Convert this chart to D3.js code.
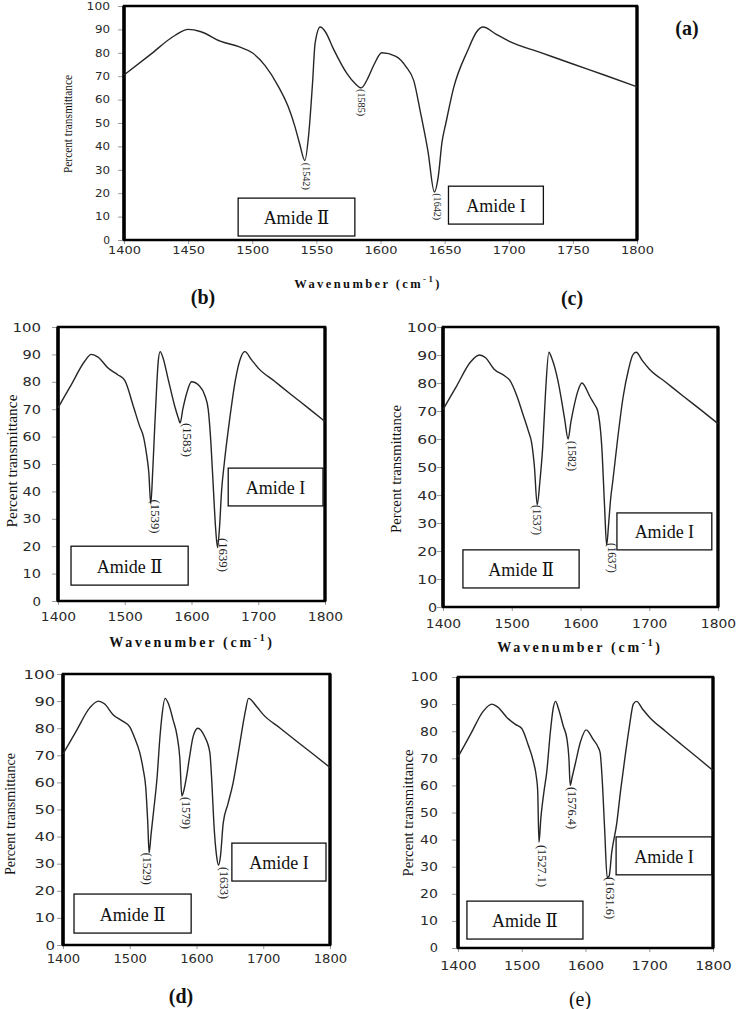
<!DOCTYPE html>
<html><head><meta charset="utf-8">
<script src="https://cdn.jsdelivr.net/npm/d3@7"></script>
<style>body{margin:0;background:#fff} svg{display:block}</style>
</head><body><svg id="chart" width="738" height="1009"></svg>
<script>
// ---------- DATA ----------
const yTicks = [0,10,20,30,40,50,60,70,80,90,100];
const xTicksA = [1400,1450,1500,1550,1600,1650,1700,1750,1800];
const xTicksBE = [1400,1500,1600,1700,1800];

const waveA  = [1400,1420,1440,1450,1460,1475,1490,1500,1510,1520,1528,1533,1537,1541,1544,1547,1549,1553,1557,1563,1574,1580,1585,1590,1595,1601,1612,1620,1626,1631,1637,1642,1645,1648,1651,1657,1668,1675,1680,1690,1700,1725,1750,1775,1800];
const transA = [70.5,79,87.5,90,89,85,82.5,80,74.5,66,57,49,41,34,45,67,84,91,89,82,71,67,65,69,75,80,78.5,74,68,55,38,20.5,27,42,50,65,81,89,91,88,85,80.1,75.2,70.4,65.5];

const waveB  = [1400,1420,1440,1450,1460,1475,1490,1500,1513,1522,1528,1533,1536,1539,1542,1545,1548,1550,1553,1557,1565,1575,1580,1583,1587,1593,1600,1612,1620,1625,1629,1633,1636,1639,1642,1645,1649,1657,1666,1674,1680,1690,1700,1725,1750,1775,1800];
const transB = [70.5,79,87.5,90,89,85,82.5,80.5,71,64,60,53,47,35.5,48,64,79,87,91,89,81,71,67,65,70,76,80,78.5,75,70,58,40,27,19.5,27,40,50,66,81,89,91,88,85,80.1,75.2,70.4,65.5];

const waveC  = [1400,1420,1440,1453,1462,1474,1490,1497,1508,1516,1524,1529,1533,1537,1541,1545,1549,1554,1558,1567,1573,1577,1582,1586,1590,1596,1602,1614,1620,1625,1631,1635,1638,1641,1644,1647,1654,1662,1670,1676,1681,1690,1700,1725,1750,1775,1800];
const transC = [70.5,79,87.5,90,89,85,82.5,81,75,69,63,58.5,50,36.5,45,57,76,91,89,81,73,67,60,66,71,77,80,75,72.5,70,57,36,22,30,39,45,60,75,85,90,91,88,85,80.1,75.2,70.4,65.5];

const waveD  = [1400,1420,1440,1453,1462,1475,1490,1500,1508,1515,1520,1524,1527,1529,1532,1536,1541,1545,1548,1553,1558,1565,1571,1575,1578,1581,1585,1590,1595,1602,1612,1620,1623,1626,1630,1633,1636,1640,1647,1655,1662,1668,1673,1678,1690,1700,1725,1750,1775,1800];
const transD = [70.5,79,87.5,90,89,85,82.5,80.5,76,71,65,58,45,34,41,50,62,76,84,91,89,83,77,69,55,57,62,70,77,80,77,71,60,45,33,29.5,33,45,52,60,70,79,86,91,88,85,80.1,75.2,70.4,65.5];

const waveE  = [1400,1420,1440,1453,1462,1477,1490,1500,1510,1518,1523,1525,1527,1530,1535,1539,1545,1549,1553,1558,1565,1571,1574,1576,1579,1584,1592,1601,1612,1620,1623,1626,1630,1634,1637,1641,1649,1655,1662,1669,1675,1680,1690,1701,1725,1750,1775,1800];
const transE = [70.5,79,87.5,90,89,85,82.5,81,75,69,63,58,39,48,58,64.5,80,88,91,88,82,77,70,60,63,68,76,80.5,77,74,72,63,44,26,26.5,35,46,58,70.5,82,90,91,88,85,80.1,75.2,70.4,65.5];

// peak annotations: text, anchor wavenumber, anchor transmittance (top of label)
const peaksA = [["(1542)",1542,33],["(1585)",1585,64.5],["(1642)",1644.5,20]];
const peaksB = [["(1539)",1545,37],["(1583)",1594,65],["(1639)",1647,23]];
const peaksC = [["(1537)",1537,36.4],["(1582)",1587.6,59.3],["(1637)",1645.8,22.9]];
const peaksD = [["(1529)",1526,34],["(1579)",1584,54.6],["(1633)",1641,28.8]];
const peaksE = [["(1527.1)",1531,38],["(1576.4)",1579,59.4],["(1631.6)",1638.4,26.2]];

// label boxes: text, wn0, wn1, t0, t1
const boxesA = [["Amide \u2161",1489,1580,1.7,17.9],["Amide I",1653,1727,6.8,23]];
const boxesB = [["Amide \u2161",1419.5,1595,5.8,20],["Amide I",1655,1797,34.7,48.5]];
const boxesC = [["Amide \u2161",1429,1598,6.8,20.4],["Amide I",1653,1791,20.4,33.6]];
const boxesD = [["Amide \u2161",1416.5,1592,4.4,18.8],["Amide I",1653,1794,23.6,37.6]];
const boxesE = [["Amide \u2161",1414,1596,3.3,17.3],["Amide I",1648,1798,27,41]];

const yTitle = "Percent transmittance";
const xTitle = "Wavenumber (cm";

// ---------- LAYOUT ----------
const panels = [
  {id:"(a)", wave:waveA, trans:transA, peaks:peaksA, boxes:boxesA, xt:xTicksA,
   x0:124,x1:637,y0:6,y1:240, fs:10.5, ycw:8.3, xcw:8.6, ypad:14, xlabY:13, peakFs:10, peakLen:27,
   yt:{x:68,y:124,fs:12.5,len:98}, xtl:{x:368,y:284,fs:12.5,ls:2.4},
   pl:{x:687,y:28,bold:true}},
  {id:"(b)", wave:waveB, trans:transB, peaks:peaksB, boxes:boxesB, xt:xTicksBE,
   x0:58,x1:325,y0:327,y1:601, fs:12.5, ycw:10, xcw:9.2, ypad:17, xlabY:17, peakFs:12.5, peakLen:34,
   yt:{x:11,y:461,fs:15.5,len:133}, xtl:{x:192,y:642,fs:14,ls:2.7},
   pl:{x:203,y:297,bold:true}},
  {id:"(c)", wave:waveC, trans:transC, peaks:peaksC, boxes:boxesC, xt:xTicksBE,
   x0:443,x1:718,y0:327,y1:607, fs:12.5, ycw:10.6, xcw:9.2, ypad:6, xlabY:18, peakFs:11.5, peakLen:30,
   yt:{x:396,y:469,fs:15,len:128}, xtl:{x:580,y:647,fs:14,ls:2.7},
   pl:{x:572,y:298,bold:true}},
  {id:"(d)", wave:waveD, trans:transD, peaks:peaksD, boxes:boxesD, xt:xTicksBE,
   x0:63,x1:330,y0:674,y1:945, fs:12.5, ycw:11, xcw:8.75, ypad:8, xlabY:15, peakFs:12, peakLen:32,
   yt:{x:10,y:814,fs:14.5,len:122}, xtl:null,
   pl:{x:181,y:996,bold:true}},
  {id:"(e)", wave:waveE, trans:transE, peaks:peaksE, boxes:boxesE, xt:xTicksBE,
   x0:458,x1:713,y0:677,y1:948, fs:12, ycw:9.7, xcw:9.5, ypad:20, xlabY:19, peakFs:12, peakLen:42,
   yt:{x:408,y:813,fs:15,len:127}, xtl:null,
   pl:{x:580,y:999,bold:false}}
];

const svg = d3.select("#chart");
const serif = "'Liberation Serif','Times New Roman',serif";
const sans = "'DejaVu Sans',sans-serif";

panels.forEach(p => {
  const x = d3.scaleLinear().domain([1400,1800]).range([p.x0,p.x1]);
  const y = d3.scaleLinear().domain([0,100]).range([p.y1,p.y0]);
  const g = svg.append("g");

  // Y axis
  const ya = g.append("g").attr("transform",`translate(${p.x0},0)`)
    .call(d3.axisLeft(y).tickValues(yTicks).tickSize(6).tickPadding(p.ypad-6).tickFormat(d3.format("d")));
  ya.select(".domain").remove();
  ya.selectAll("line").attr("stroke","#9a9a9a");
  ya.selectAll("text").style("font-family",sans).style("font-size",p.fs+"px")
    .attr("fill","#2a2a2a")
    .attr("textLength",d=>String(d).length*p.ycw - 1.5).attr("lengthAdjust","spacingAndGlyphs");

  // X axis
  const xa = g.append("g").attr("transform",`translate(0,${p.y1})`)
    .call(d3.axisBottom(x).tickValues(p.xt).tickSize(4).tickPadding(p.xlabY-10).tickFormat(d3.format("d")));
  xa.select(".domain").remove();
  xa.selectAll("line").attr("stroke","#9a9a9a");
  xa.selectAll("text").style("font-family",sans).style("font-size",p.fs+"px")
    .attr("fill","#2a2a2a")
    .attr("textLength",d=>String(d).length*p.xcw - 1.5).attr("lengthAdjust","spacingAndGlyphs");

  // Frame
  g.append("rect").attr("x",p.x0).attr("y",p.y0).attr("width",p.x1-p.x0).attr("height",p.y1-p.y0)
    .attr("fill","none").attr("stroke","#000").attr("stroke-width",2.5);
  g.append("line").attr("x1",p.x0).attr("x2",p.x0).attr("y1",p.y0).attr("y2",p.y1)
    .attr("stroke","#000").attr("stroke-width",3.5);
  g.append("line").attr("x1",p.x1).attr("x2",p.x1).attr("y1",p.y0).attr("y2",p.y1)
    .attr("stroke","#000").attr("stroke-width",3.2);

  // Curve
  const line = d3.line().x(d=>x(d[0])).y(d=>y(d[1])).curve(d3.curveMonotoneX);
  g.append("path").datum(d3.zip(p.wave,p.trans)).attr("d",line)
    .attr("fill","none").attr("stroke","#262626").attr("stroke-width",1.4);

  // Peak labels (rotated)
  p.peaks.forEach(pk => {
    g.append("text").attr("transform",`translate(${x(pk[1])},${y(pk[2])}) rotate(90)`)
      .attr("text-anchor","start").attr("dominant-baseline","central")
      .style("font-family",serif).style("font-size",p.peakFs+"px").attr("fill","#222")
      .attr("textLength",p.peakLen).attr("lengthAdjust","spacingAndGlyphs")
      .text(pk[0]);
  });

  // Boxes
  p.boxes.forEach(b => {
    const bx = x(b[1]), bw = x(b[2])-x(b[1]), by = y(b[4]), bh = y(b[3])-y(b[4]);
    g.append("rect").attr("x",bx).attr("y",by).attr("width",bw).attr("height",bh)
      .attr("fill","#fff").attr("stroke","#111").attr("stroke-width",1.3);
    g.append("text").attr("x",bx+bw/2).attr("y",by+bh/2+1).attr("text-anchor","middle")
      .attr("dominant-baseline","central").style("font-family","'Liberation Serif','DejaVu Serif',serif")
      .style("font-size","18px").attr("fill","#111").text(b[0]);
  });

  // Y title
  g.append("text").attr("transform",`translate(${p.yt.x},${p.yt.y}) rotate(-90)`)
    .attr("text-anchor","middle").attr("dominant-baseline","central")
    .style("font-family",serif).style("font-size",p.yt.fs+"px").attr("fill","#111")
    .attr("textLength",p.yt.len).attr("lengthAdjust","spacingAndGlyphs").text(yTitle);

  // X title
  if (p.xtl) {
    const t = g.append("text").attr("x",p.xtl.x).attr("y",p.xtl.y).attr("text-anchor","middle")
      .attr("dominant-baseline","central").style("font-family",serif).style("font-weight","bold")
      .style("font-size",p.xtl.fs+"px").attr("fill","#111").style("letter-spacing",p.xtl.ls+"px");
    t.append("tspan").text(xTitle);
    t.append("tspan").style("font-size",(p.xtl.fs*0.7)+"px").attr("dy",-5).text("-1");
    t.append("tspan").attr("dy",5).text(")");
  }

  // Panel label
  g.append("text").attr("x",p.pl.x).attr("y",p.pl.y).attr("text-anchor","middle")
    .attr("dominant-baseline","central").style("font-family",serif)
    .style("font-weight",p.pl.bold?"bold":"normal").style("font-size","20px").attr("fill","#111").text(p.id);
});
</script></body></html>
